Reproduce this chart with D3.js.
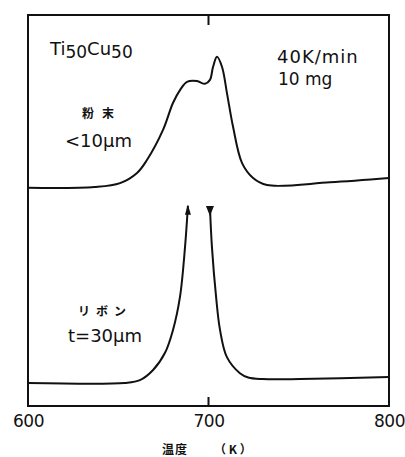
<!DOCTYPE html>
<html>
<head>
<meta charset="utf-8">
<script src="https://cdn.jsdelivr.net/npm/d3@7"></script>
<style>
  body { margin: 0; background: #fff; }
  text { font-family: "DejaVu Sans", sans-serif; fill: #111; }
  .jp { font-family: "Noto Sans CJK JP", sans-serif; font-weight: 700; }
</style>
</head>
<body>
<svg id="chart"></svg>
<script>
// powder (<10um), upper trace
let powderTemp = [600, 637, 651, 660.4, 665.9, 674.8, 680.3, 684.2, 688.1, 693.6, 698.1, 700.8, 702.5, 704.7, 707.5, 710.2, 713.6, 718.6, 724.7, 732.4, 767.3, 800];
let powderSig = [55.8, 56.0, 57.0, 59.6, 62.9, 70.6, 77.5, 80.8, 82.9, 83.1, 82.4, 83.4, 86.7, 89.3, 86.7, 80.1, 71.4, 62.1, 58.3, 56.5, 57.2, 58.3];

// ribbon (t=30um), lower trace, peak goes off scale -> two branches with arrows
let riseTemp = [600, 653.7, 662.0, 669.3, 675.9, 680.3, 684.2, 687.0, 688.6];
let riseSig = [5.9, 5.9, 6.6, 9.2, 13.6, 19.4, 27.9, 40.7, 51.2];
let fallTemp = [700.8, 701.9, 704.2, 706.4, 710.2, 717.4, 722.0, 730.0, 750.7, 800];
let fallSig = [50.9, 40.7, 27.9, 19.4, 12.5, 8.4, 7.3, 6.9, 6.9, 7.4];

let xTicks = [600, 700, 800];

let width = 405;
let height = 457;
let mLeft = 28, mRight = 389, mTop = 15, mBottom = 406;

let svg = d3.select("#chart").attr("width", width).attr("height", height);

let x = d3.scaleLinear().domain([600, 800]).range([mLeft, mRight]);
let y = d3.scaleLinear().domain([0, 100]).range([mBottom, mTop]);

let line = d3
  .line()
  .x((d) => x(d[0]))
  .y((d) => y(d[1]))
  .curve(d3.curveCatmullRom.alpha(0.5));

let zip = (a, b) => a.map((v, i) => [v, b[i]]);

// frame
svg
  .append("rect")
  .attr("x", mLeft)
  .attr("y", mTop)
  .attr("width", mRight - mLeft)
  .attr("height", mBottom - mTop)
  .style("fill", "none")
  .style("stroke", "#111")
  .style("stroke-width", 2);

// axis at bottom, only labels + centre tick
let xAxis = d3.axisBottom(x).tickValues(xTicks).tickSize(0).tickPadding(9);
let gx = svg.append("g").attr("transform", `translate(0,${mBottom})`).call(xAxis);
gx.select(".domain").remove();
gx.selectAll("text")
  .style("font-family", "DejaVu Sans, sans-serif")
  .style("font-size", "17px")
  .style("letter-spacing", "-0.5px")
  .style("fill", "#111");

// 700 tick marks top and bottom
svg.append("line")
  .attr("x1", x(700)).attr("x2", x(700))
  .attr("y1", mBottom).attr("y2", mBottom - 9)
  .style("stroke", "#111").style("stroke-width", 2);
svg.append("line")
  .attr("x1", x(700)).attr("x2", x(700))
  .attr("y1", mTop).attr("y2", mTop + 10)
  .style("stroke", "#111").style("stroke-width", 2);

// traces
let traces = [zip(powderTemp, powderSig), zip(riseTemp, riseSig), zip(fallTemp, fallSig)];
svg
  .append("g")
  .selectAll(".trace")
  .data(traces)
  .join("path")
  .attr("class", "trace")
  .attr("d", line)
  .style("fill", "none")
  .style("stroke", "#111")
  .style("stroke-width", 2);

// arrow heads at the cut ends of the ribbon peak
let upX = x(riseTemp[riseTemp.length - 1]);
let upY = y(riseSig[riseSig.length - 1]);
svg.append("path")
  .attr("d", `M${upX},${upY - 1} L${upX - 3},${upY + 9} L${upX + 3},${upY + 9} Z`)
  .style("fill", "#111");
let dnX = x(fallTemp[0]);
let dnY = y(fallSig[0]);
svg.append("path")
  .attr("d", `M${dnX - 4},${dnY - 1} L${dnX + 4},${dnY - 1} L${dnX},${dnY + 9} Z`)
  .style("fill", "#111");

// labels
let ti = svg.append("text").attr("x", 50).attr("y", 55).style("font-size", "18px");
ti.append("tspan").text("Ti");
ti.append("tspan").attr("dy", 3).style("font-size", "17px").text("50");
ti.append("tspan").attr("dy", -3).text("Cu");
ti.append("tspan").attr("dy", 3).style("font-size", "17px").text("50");

svg.append("text").attr("x", 277).attr("y", 63).style("font-size", "18px")
  .style("letter-spacing", "1px").text("40K/min");
svg.append("text").attr("x", 278).attr("y", 85).style("font-size", "17px").text("10 mg");

svg.append("text").attr("class", "jp").attr("x", 82).attr("y", 118)
  .style("font-size", "12px").style("letter-spacing", "8px").text("粉末");
svg.append("text").attr("x", 65).attr("y", 147).style("font-size", "18px").text("<10μm");

svg.append("text").attr("class", "jp").attr("x", 78).attr("y", 316)
  .style("font-size", "12px").style("letter-spacing", "6px").text("リボン");
svg.append("text").attr("x", 68).attr("y", 342).style("font-size", "18px").text("t=30μm");

svg.append("text").attr("class", "jp").attr("x", 162).attr("y", 454)
  .style("font-size", "12px").style("letter-spacing", "1px").text("温度");
svg.append("text").attr("class", "jp").attr("x", 214).attr("y", 454)
  .style("font-size", "12px").text("（ K ）");
</script>
</body>
</html>
